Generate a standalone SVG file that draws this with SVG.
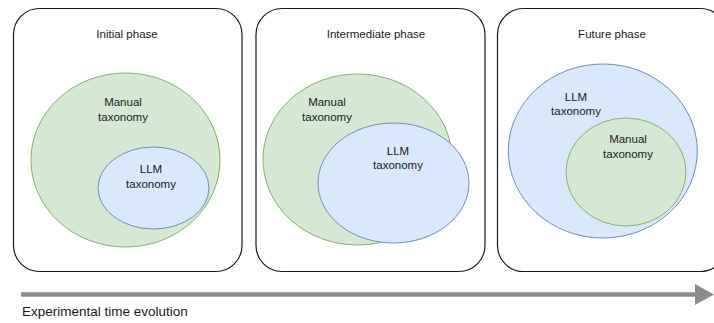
<svg xmlns="http://www.w3.org/2000/svg" width="714" height="323" viewBox="0 0 714 323">
  <style>
    .box { fill: #ffffff; stroke: #1a1a1a; stroke-width: 1.2; }
    .green { fill: #d5e8d4; stroke: #82b366; stroke-width: 1; }
    .blue { fill: #dae8fc; stroke: #6c8ebf; stroke-width: 1; }
    text { font-family: "Liberation Sans", Arial, sans-serif; fill: #1a1a1a; }
    .title { font-size: 11.5px; text-anchor: middle; }
    .lbl { font-size: 11.5px; text-anchor: middle; }
    .caption { font-size: 13.5px; }
  </style>
  <rect width="714" height="323" fill="#ffffff"/>

  <g id="initial-phase">
    <rect class="box" x="13.5" y="8.5" width="228.5" height="263" rx="26" ry="26"/>
    <text class="title" x="127" y="37.5">Initial phase</text>
    <ellipse class="green" cx="125.5" cy="160" rx="94.5" ry="87"/>
    <text class="lbl" x="123" y="106">Manual</text>
    <text class="lbl" x="123" y="120.5">taxonomy</text>
    <ellipse class="blue" cx="153.5" cy="188" rx="55.5" ry="41"/>
    <text class="lbl" x="151" y="173">LLM</text>
    <text class="lbl" x="151" y="188">taxonomy</text>
  </g>

  <g id="intermediate-phase">
    <rect class="box" x="256" y="8.5" width="229" height="263" rx="26" ry="26"/>
    <text class="title" x="376" y="37.5">Intermediate phase</text>
    <ellipse class="green" cx="357.5" cy="159.5" rx="94.5" ry="85.5"/>
    <text class="lbl" x="327" y="106">Manual</text>
    <text class="lbl" x="327" y="120.5">taxonomy</text>
    <ellipse class="blue" cx="393.5" cy="183" rx="75.5" ry="60"/>
    <text class="lbl" x="398" y="154.5">LLM</text>
    <text class="lbl" x="398" y="169">taxonomy</text>
  </g>

  <g id="future-phase">
    <rect class="box" x="497.5" y="8.5" width="229" height="263" rx="26" ry="26"/>
    <text class="title" x="612" y="37.5">Future phase</text>
    <ellipse class="blue" cx="602.8" cy="151" rx="94.5" ry="87"/>
    <text class="lbl" x="576" y="100.5">LLM</text>
    <text class="lbl" x="576" y="115">taxonomy</text>
    <ellipse class="green" cx="626" cy="172" rx="60" ry="54"/>
    <text class="lbl" x="628" y="143">Manual</text>
    <text class="lbl" x="628" y="157.5">taxonomy</text>
  </g>

  <g id="connectors">
    <line x1="21" y1="294.5" x2="697" y2="294.5" stroke="#8c8c8c" stroke-width="4.5"/>
    <polygon points="695,284 714,294.5 695,305" fill="#8c8c8c"/>
  </g>
  <text class="caption" x="22" y="316">Experimental time evolution</text>
</svg>
